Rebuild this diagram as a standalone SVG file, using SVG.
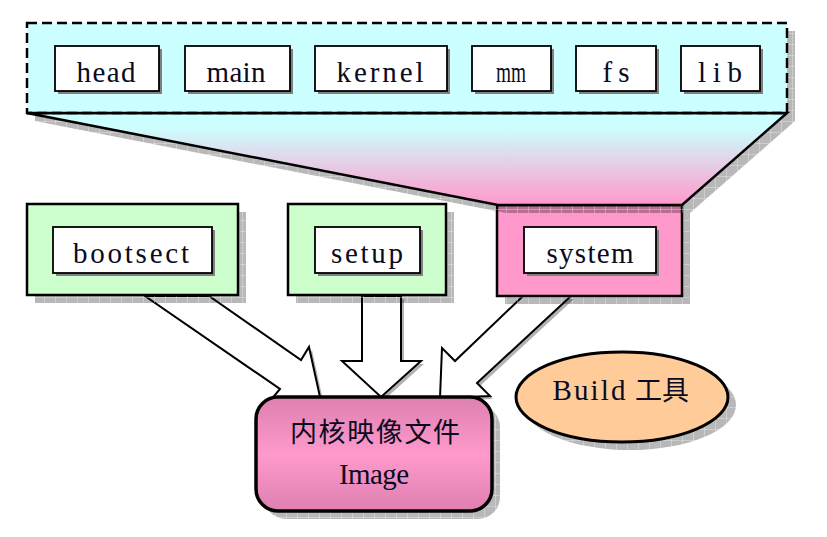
<svg xmlns="http://www.w3.org/2000/svg" width="827" height="537" viewBox="0 0 827 537">
<defs>
<pattern id="sh" width="11" height="11" patternUnits="userSpaceOnUse">
<rect width="11" height="11" fill="#000" fill-opacity="0.28"/>
<path d="M0 0.5H11M0.5 0V11" stroke="#fff" stroke-opacity="0.3" stroke-width="1"/>
</pattern>
<linearGradient id="trap" x1="0" y1="0" x2="0" y2="1">
<stop offset="0" stop-color="#CCFFFF"/>
<stop offset="0.15" stop-color="#CCFFFF"/>
<stop offset="1" stop-color="#FF99CC"/>
</linearGradient>
<linearGradient id="img" x1="0" y1="0" x2="0" y2="1">
<stop offset="0" stop-color="#DD80B0"/>
<stop offset="0.5" stop-color="#FF99CC"/>
<stop offset="1" stop-color="#DD80B0"/>
</linearGradient>
<style>
.shd{fill:url(#sh);stroke:none}
.outer{stroke:#000;stroke-width:2.5}
.inner{fill:#fff;stroke:#000;stroke-width:1.8}
.ishd{fill:#808080}
.t{font-family:"Liberation Serif","Noto Sans CJK SC",serif;font-size:29px;fill:#0a0a20;text-anchor:middle}
.cjk{font-family:"Noto Sans CJK SC",sans-serif;font-size:27px;fill:#0a0a20;text-anchor:middle}
.arrow{fill:#fff;stroke:#000;stroke-width:2;stroke-linejoin:miter}
.ashd{fill:#000;fill-opacity:0.3}
</style>
</defs>
<rect width="827" height="537" fill="#fff"/>

<g id="connectors">
<polygon class="ashd" transform="translate(3,3)" points="145,296 209,296 301,360 309,347 320,397 270,401 280,389"/>
<polygon class="ashd" transform="translate(3,3)" points="362,296 401,296 401,361 421,361 381,397 342,361 362,361"/>
<polygon class="ashd" transform="translate(3,3)" points="523,296 571,296 477,383 490,396 440,398 442,348 455,361"/>
<polygon class="arrow" points="145,296 209,296 301,360 309,347 320,397 270,401 280,389"/>
<polygon class="arrow" points="362,296 401,296 401,361 421,361 381,397 342,361 362,361"/>
<polygon class="arrow" points="523,296 571,296 477,383 490,396 440,398 442,348 455,361"/>
</g>

<g id="bootsect">
<rect class="shd" x="35" y="212" width="211" height="91"/>
<rect class="outer" x="27" y="204" width="211" height="91" fill="#CCFFCC"/>
<rect class="ishd" x="56" y="230" width="159" height="46"/>
<rect class="inner" x="53" y="227" width="159" height="46"/>
<text class="t" x="131" y="263" textLength="116" lengthAdjust="spacing">bootsect</text>
</g>

<g id="setup">
<rect class="shd" x="296" y="212" width="158" height="91"/>
<rect class="outer" x="288" y="204" width="158" height="91" fill="#CCFFCC"/>
<rect class="ishd" x="318" y="230" width="105" height="46"/>
<rect class="inner" x="315" y="227" width="105" height="46"/>
<text class="t" x="367" y="263" textLength="72" lengthAdjust="spacing">setup</text>
</g>

<g id="system">
<rect class="shd" x="505" y="213" width="185" height="91"/>
<rect class="outer" x="497" y="205" width="185" height="91" fill="#FF99CC"/>
<rect class="ishd" x="527" y="230" width="132" height="46"/>
<rect class="inner" x="524" y="227" width="132" height="46"/>
<text class="t" x="590" y="263" textLength="87" lengthAdjust="spacing">system</text>
</g>

<g id="kernel-group">
<path class="shd" d="M35,31 H795 V121 L690,213 H506 L35,121 Z"/>
<polygon points="27,113 787,113 682,205 498,205" fill="url(#trap)" stroke="#000" stroke-width="2.5" stroke-linejoin="miter"/>
<rect x="27" y="23" width="760" height="90" fill="#CCFFFF" stroke="#000" stroke-width="2.5" stroke-dasharray="10,5"/>
<line x1="27" y1="113" x2="787" y2="113" stroke="#000" stroke-width="2.5"/>
</g>

<g id="head">
<rect class="ishd" x="58" y="49" width="104" height="45"/>
<rect class="inner" x="55" y="46" width="104" height="45"/>
<text class="t" x="106" y="82" textLength="59" lengthAdjust="spacing">head</text>
</g>
<g id="main">
<rect class="ishd" x="188" y="49" width="105" height="45"/>
<rect class="inner" x="185" y="46" width="105" height="45"/>
<text class="t" x="236" y="82" textLength="59" lengthAdjust="spacing">main</text>
</g>
<g id="kernel">
<rect class="ishd" x="318" y="49" width="132" height="45"/>
<rect class="inner" x="315" y="46" width="132" height="45"/>
<text class="t" x="380" y="82" textLength="87" lengthAdjust="spacing">kernel</text>
</g>
<g id="mm">
<rect class="ishd" x="475" y="49" width="79" height="45"/>
<rect class="inner" x="472" y="46" width="79" height="45"/>
<text class="t" x="511" y="82" textLength="30" lengthAdjust="spacingAndGlyphs">mm</text>
</g>
<g id="fs">
<rect class="ishd" x="579" y="49" width="80" height="45"/>
<rect class="inner" x="576" y="46" width="80" height="45"/>
<text class="t" x="616" y="82" textLength="27" lengthAdjust="spacing">fs</text>
</g>
<g id="lib">
<rect class="ishd" x="684" y="49" width="79" height="45"/>
<rect class="inner" x="681" y="46" width="79" height="45"/>
<text class="t" x="720" y="82" textLength="44" lengthAdjust="spacing">lib</text>
</g>

<g id="image">
<rect class="shd" x="264" y="405" width="236" height="114" rx="22"/>
<rect x="256" y="397" width="236" height="114" rx="22" fill="url(#img)" stroke="#000" stroke-width="3.5"/>
<text class="cjk" x="375" y="442" textLength="170" lengthAdjust="spacing">内核映像文件</text>
<text class="t" x="374" y="484" textLength="70" lengthAdjust="spacing">Image</text>
</g>

<g id="build">
<ellipse class="shd" cx="630" cy="405" rx="106" ry="45"/>
<ellipse cx="622" cy="397" rx="106" ry="45" fill="#FFCC99" stroke="#000" stroke-width="3"/>
<text class="t" x="589" y="400" textLength="73" lengthAdjust="spacing">Build</text>
<text class="cjk" x="662" y="400" textLength="54" lengthAdjust="spacing">工具</text>
</g>
</svg>
